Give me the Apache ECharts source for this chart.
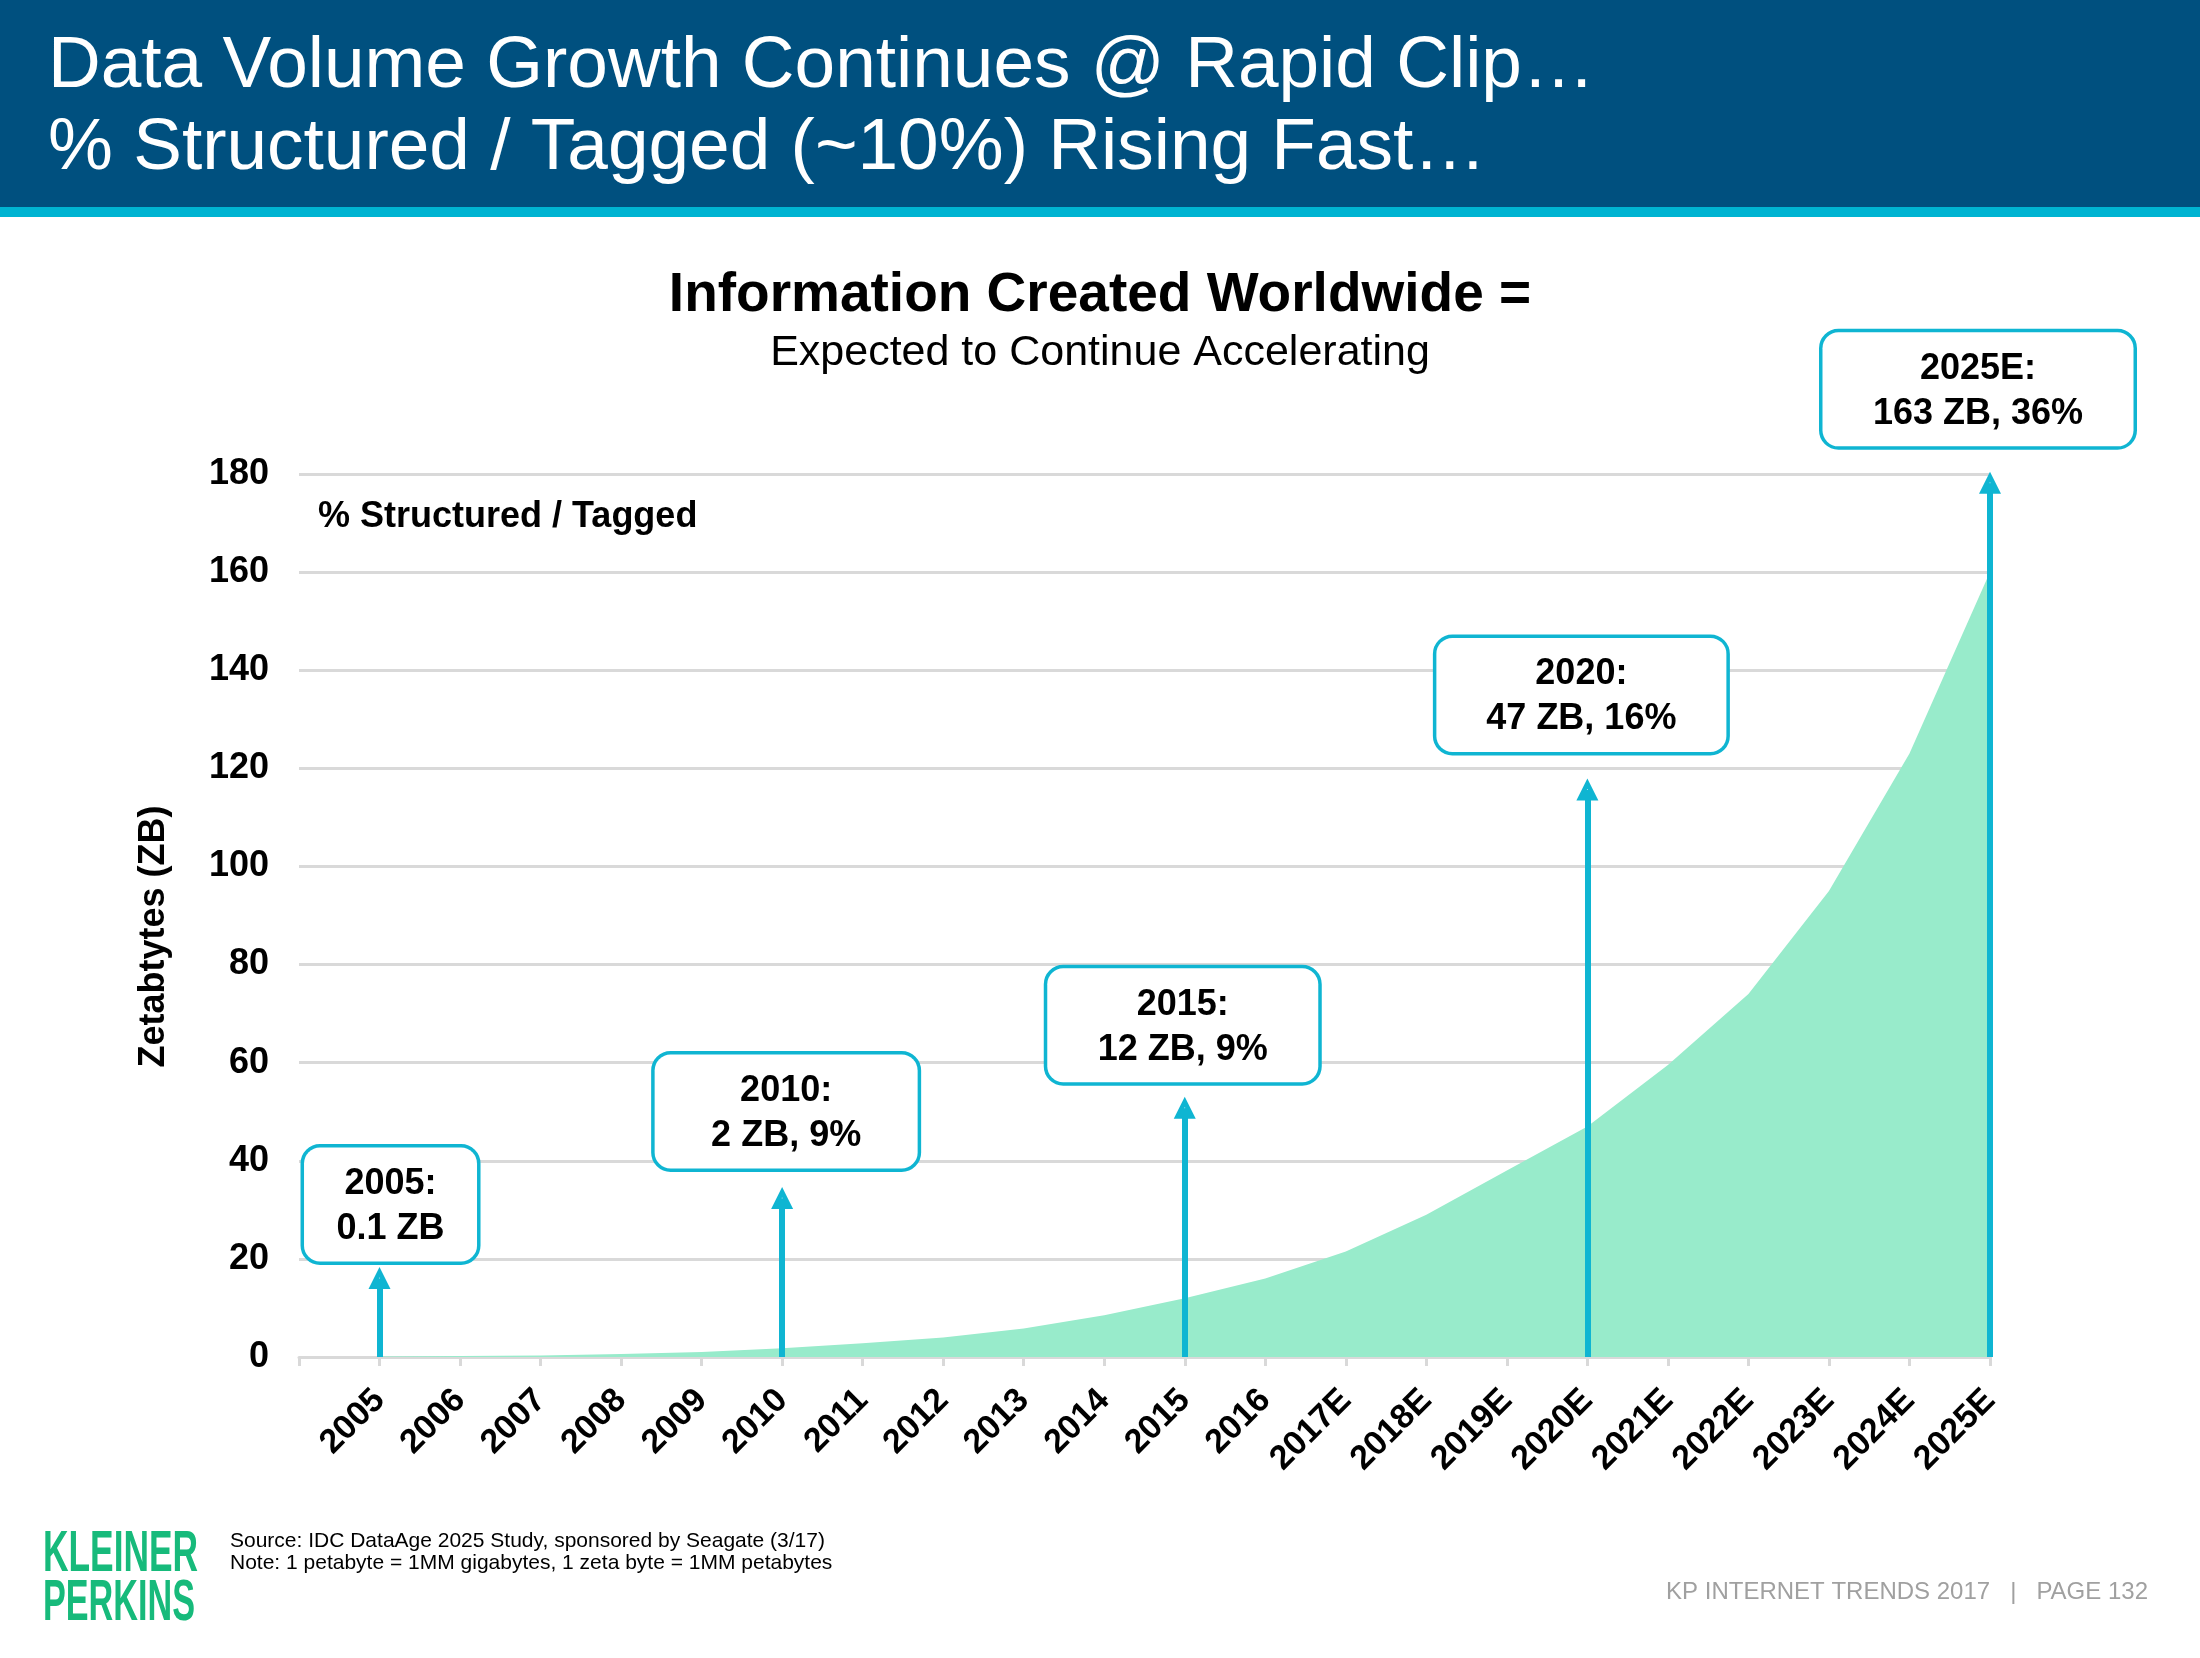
<!DOCTYPE html>
<html>
<head>
<meta charset="utf-8">
<script src="https://cdn.jsdelivr.net/npm/echarts@6/dist/echarts.min.js"></script>
<style>
html,body{margin:0;padding:0;background:#ffffff;}
#chart{width:2200px;height:1658px;}
</style>
</head>
<body>
<div id="chart"></div>
<script>
// ---------- data ----------
const years = ['2005','2006','2007','2008','2009','2010','2011','2012','2013','2014','2015','2016',
  '2017E','2018E','2019E','2020E','2021E','2022E','2023E','2024E','2025E'];
const zettabytes = [0.1,0.2,0.3,0.6,1.0,1.8,2.8,4.0,5.8,8.5,12,16,21.5,29,38,47,59.5,74,95,123,160];
const yMin = 0, yMax = 180, yInterval = 20;

// callouts (arrow + box)
const calloutYears  = ['2005','2010','2015','2020E','2025E'];
const calloutTitles = ['2005:','2010:','2015:','2020:','2025E:'];
const calloutValues = ['0.1 ZB','2 ZB, 9%','12 ZB, 9%','47 ZB, 16%','163 ZB, 36%'];
const arrowTops     = [16.1, 32.4, 50.8, 115.7, 178.2];

// ---------- styles ----------
const F = '"Liberation Sans", Arial, Helvetica, sans-serif';
const CYAN = '#0FB5D2';
const GRID = '#D9D9D9';
const boxWidths = [173, 263, 271, 290, 311];
const boxDx     = [11, 4, -2, -6, -12];
const boxGap    = [16, 29, 25, 37, 36];

const chart = echarts.init(document.getElementById('chart'), null, {width:2200, height:1658});

const arrowData = calloutYears.map((y, i) => [
  {coord:[y, 0]},
  {coord:[y, arrowTops[i]]}
]);

const boxData = calloutYears.map((y, i) => ({
  value:[y, arrowTops[i]],
  label:{
    width: boxWidths[i],
    distance: boxGap[i],
    offset:[boxDx[i], 0],
    formatter: '{t|' + calloutTitles[i] + '}\n{t|' + calloutValues[i] + '}'
  }
}));

const option = {
  animation:false,
  backgroundColor:'#ffffff',
  textStyle:{fontFamily:F},
  title:[
    {
      text:'Data Volume Growth Continues @ Rapid Clip…\n% Structured / Tagged (~10%) Rising Fast…',
      left:48, top:26, padding:0, z:10,
      textStyle:{color:'#ffffff', fontSize:73, fontWeight:'normal', lineHeight:82, fontFamily:F}
    },
    {
      text:'Information Created Worldwide =',
      subtext:'Expected to Continue Accelerating',
      left:'center', top:266, padding:0, itemGap:4, z:10,
      textStyle:{color:'#000000', fontSize:55, fontWeight:'bold', lineHeight:60, fontFamily:F},
      subtextStyle:{color:'#000000', fontSize:43, lineHeight:46, fontFamily:F}
    }
  ],
  grid:{left:299, right:210, top:474, bottom:301, containLabel:false, outerBoundsMode:'none'},
  xAxis:{
    type:'category',
    boundaryGap:false,
    data:[''].concat(years),
    axisLine:{show:true, lineStyle:{color:GRID, width:3}},
    axisTick:{show:true, interval:0, length:9, lineStyle:{color:GRID, width:3}},
    axisLabel:{interval:0, rotate:45, margin:38, fontSize:34, fontWeight:'bold', color:'#000000', fontFamily:F},
    splitLine:{show:false}
  },
  yAxis:{
    type:'value',
    min:yMin, max:yMax, interval:yInterval,
    name:'Zetabtytes (ZB)',
    nameLocation:'middle',
    nameRotate:90,
    nameGap:127,
    nameTextStyle:{fontSize:36, fontWeight:'bold', color:'#000000', fontFamily:F, padding:[0,42,0,0]},
    axisLine:{show:false},
    axisTick:{show:false},
    axisLabel:{margin:30, fontSize:36, fontWeight:'bold', color:'#000000', fontFamily:F},
    splitLine:{show:true, lineStyle:{color:GRID, width:3}}
  },
  series:[
    {
      name:'Information Created',
      type:'line',
      data:[null].concat(zettabytes),
      symbol:'none',
      smooth:false,
      lineStyle:{width:0},
      areaStyle:{color:'#98EBCB', opacity:1},
      z:2,
      silent:true,
      markLine:{
        silent:true,
        symbol:['none','triangle'],
        symbolSize:22,
        label:{show:false},
        lineStyle:{color:CYAN, width:6, type:'solid'},
        emphasis:{disabled:true},
        data:arrowData
      }
    },
    {
      name:'Callouts',
      type:'scatter',
      data:boxData,
      symbolSize:1,
      clip:false,
      z:10,
      silent:true,
      itemStyle:{color:'#ffffff'},
      label:{
        show:true,
        position:'top',
        padding:[14,0,10,0],
        backgroundColor:'#ffffff',
        borderColor:CYAN,
        borderWidth:3.5,
        borderRadius:16,
        lineHeight:45,
        fontSize:36,
        fontWeight:'bold',
        color:'#000000',
        opacity:1,
        textBorderWidth:0,
        fontFamily:F,
        rich:{
          t:{color:'#000000', fontSize:36, fontWeight:'bold', lineHeight:45, fontFamily:F, textBorderWidth:0}
        }
      }
    }
  ],
  graphic:[
    {type:'rect', z:0, shape:{x:0, y:0, width:2200, height:207}, style:{fill:'#00507F'}},
    {type:'rect', z:0, shape:{x:0, y:207, width:2200, height:10}, style:{fill:'#00B4D2'}},
    {type:'text', z:5, x:318, y:517, style:{text:'% Structured / Tagged', fill:'#000000',
      font:'bold 36px ' + F, verticalAlign:'middle', align:'left'}},
    {type:'text', z:5, x:43, y:1555, scaleX:0.62, style:{text:'KLEINER', fill:'#17BA7B',
      font:'bold 57px ' + F, verticalAlign:'middle', align:'left'}},
    {type:'text', z:5, x:43, y:1604, scaleX:0.6, style:{text:'PERKINS', fill:'#17BA7B',
      font:'bold 57px ' + F, verticalAlign:'middle', align:'left'}},
    {type:'text', z:5, x:230, y:1541, style:{text:'Source: IDC DataAge 2025 Study, sponsored by Seagate (3/17)',
      fill:'#000000', font:'21px ' + F, verticalAlign:'middle', align:'left'}},
    {type:'text', z:5, x:230, y:1563, style:{text:'Note: 1 petabyte = 1MM gigabytes, 1 zeta byte = 1MM petabytes',
      fill:'#000000', font:'21px ' + F, verticalAlign:'middle', align:'left'}},
    {type:'text', z:5, x:2148, y:1592, style:{text:'KP INTERNET TRENDS 2017   |   PAGE 132',
      fill:'#A0A0A0', font:'24px ' + F, verticalAlign:'middle', align:'right'}}
  ]
};

chart.setOption(option);
</script>
</body>
</html>
